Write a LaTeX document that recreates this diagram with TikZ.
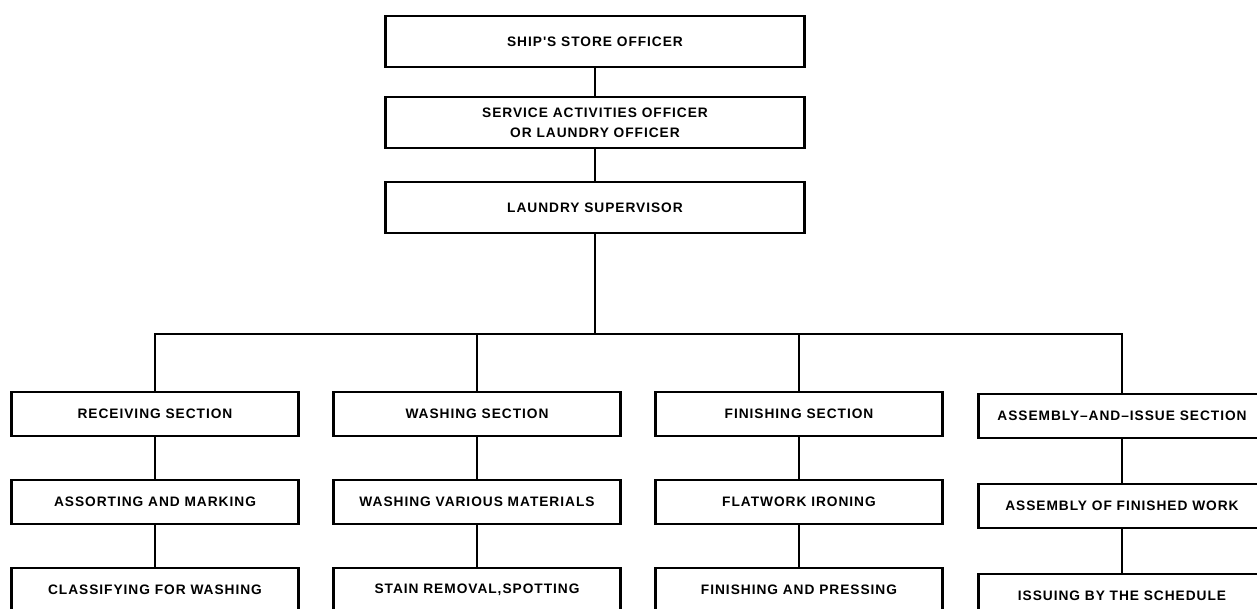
\documentclass[tikz,border=0pt]{standalone}
\usepackage{fontspec}
\setmainfont{Liberation Sans}
\newfontfamily\chartfont[LetterSpace=7]{Liberation Sans}

\tikzset{
  orgbox/.style={draw, line width=1.6pt, inner sep=0pt, minimum width=215.25pt, minimum height=33pt,
    font=\chartfont\bfseries\fontsize{10.3}{15}\selectfont},
  topbox/.style={orgbox, minimum width=314.25pt, minimum height=38.25pt, align=center},
  link/.style={line width=1.4pt}
}

\begin{document}
\begin{tikzpicture}[x=0.75pt,y=0.75pt,yscale=-1,xscale=1]
    \useasboundingbox (0,0) rectangle (1257,609);

    % Top chain
    \node [topbox] (store) at (595,41.5) {SHIP'S STORE OFFICER};
    \node [topbox] (service) at (595,122.5) {SERVICE ACTIVITIES OFFICER\\OR LAUNDRY OFFICER};
    \node [topbox] (super) at (595,207.5) {LAUNDRY SUPERVISOR};

    % Sections
    \node [orgbox] (receive) at (155,414) {RECEIVING SECTION};
    \node [orgbox] (wash) at (477,414) {WASHING SECTION};
    \node [orgbox] (finish) at (799,414) {FINISHING SECTION};
    \node [orgbox] (assembly) at (1122,416) {ASSEMBLY\textendash AND\textendash ISSUE SECTION};

    % Second row
    \node [orgbox] (assort) at (155,502) {ASSORTING AND MARKING};
    \node [orgbox] (various) at (477,502) {WASHING VARIOUS MATERIALS};
    \node [orgbox] (flatwork) at (799,502) {FLATWORK IRONING};
    \node [orgbox] (finwork) at (1122,506) {ASSEMBLY OF FINISHED WORK};

    % Third row
    \node [orgbox] (classify) at (155,590) {CLASSIFYING FOR WASHING};
    \node [orgbox] (stain) at (477,590) {STAIN REMOVAL,SPOTTING};
    \node [orgbox] (pressing) at (799,590) {FINISHING AND PRESSING};
    \node [orgbox] (issuing) at (1122,596) {ISSUING BY THE SCHEDULE};

    % Connectors
    \coordinate (bus) at (595,334);
    \draw [link] (store) -- (service);
    \draw [link] (service) -- (super);
    \draw [link] (super) -- (bus);
    \draw [link] (receive) |- (bus) -| (assembly);
    \draw [link] (wash) -- (wash |- bus);
    \draw [link] (finish) -- (finish |- bus);
    \foreach \a/\b in {receive/assort, assort/classify, wash/various, various/stain,
                       finish/flatwork, flatwork/pressing, assembly/finwork, finwork/issuing}
      \draw [link] (\a) -- (\b);

\end{tikzpicture}
\end{document}
